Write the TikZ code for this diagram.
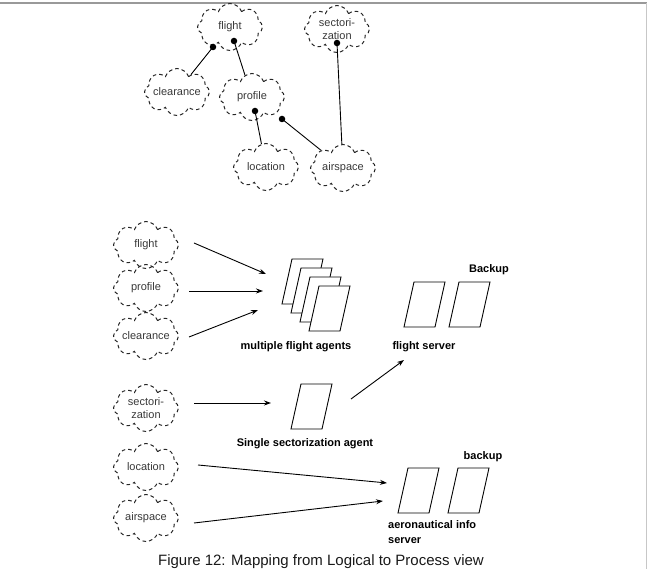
\documentclass[tikz,border=0pt]{standalone}
\usepackage{fontspec}
\setmainfont{Liberation Sans}
\usetikzlibrary{shapes.symbols,arrows.meta}
\newcommand\cloudfont{\fontsize{11}{13}\selectfont}
\newcommand\boldlabfont{\fontsize{11}{15}\selectfont\bfseries}
\newcommand\capfont{\fontsize{15}{17}\selectfont}
\newcommand\cltxt[1]{\makebox[24pt][c]{#1}}
\tikzset{
  cloudbox/.style={cloud, cloud puffs=8, cloud puff arc=140, aspect=1.35,
    draw=black!85, dash pattern=on 3.6pt off 3pt, line width=1pt,
    minimum width=65pt, minimum height=47pt, inner sep=0pt,
    font=\cloudfont, text=black!78, align=center},
  conn/.style={line width=0.9pt, black},
  dotmark/.style={circle, fill=black, inner sep=0pt, minimum size=6.5pt},
  arr/.style={line width=0.9pt, black, -{Stealth[length=7pt,width=5pt]}},
  paraline/.style={line width=0.9pt, black, fill=white},
  boldlab/.style={font=\boldlabfont, text=black, inner sep=0pt},
  pics/para/.style={code={\draw[paraline] (0,0) -- (31,0) -- (21,45) -- (-10,45) -- cycle;}},
  frame/.style={line width=1.4pt}
}
\begin{document}
\begin{tikzpicture}[x=1pt,y=-1pt]
\useasboundingbox (0,0) rectangle (649,569);
% frame
\draw[frame, draw=black!40] (0,3) -- (646.5,3);
\draw[frame, draw=black!22] (646.5,3) -- (646.5,569);

% ---------- top: logical view ----------
\node[cloudbox] (tflight) at (230,27) {\cltxt{flight}};
\node[cloudbox] (tsect) at (337,29) {\cltxt{sectori-}\\\cltxt{zation}};
\node[cloudbox] (tclear) at (177,92) {\cltxt{clearance}};
\node[cloudbox] (tprof) at (252,97) {\cltxt{profile}};
\node[cloudbox] (tloc) at (266,167) {\cltxt{location}};
\node[cloudbox] (tair) at (343,168) {\cltxt{airspace}};

\node[dotmark] (d1) at (213,47) {};
\node[dotmark] (d2) at (234,41) {};
\node[dotmark] (d3) at (337,43) {};
\node[dotmark] (d4) at (255,111) {};
\node[dotmark] (d5) at (282,119) {};

\draw[conn] (tclear) -- (d1.center);
\draw[conn] (tprof) -- (d2.center);
\draw[conn] (tair) -- (d3.center);
\draw[conn] (tloc) -- (d4.center);
\draw[conn] (tair) -- (d5.center);

% ---------- bottom: process view ----------
\node[cloudbox] (bflight) at (146,245) {\cltxt{flight}};
\node[cloudbox] (bprof) at (146,288) {\cltxt{profile}};
\node[cloudbox] (bclear) at (146,336) {\cltxt{clearance}};
\node[cloudbox] (bsect) at (146,408) {\cltxt{sectori-}\\\cltxt{zation}};
\node[cloudbox] (bloc) at (146,467) {\cltxt{location}};
\node[cloudbox] (bair) at (146,518) {\cltxt{airspace}};

% multiple flight agents
\pic at (292,259) {para};
\pic at (301,268) {para};
\pic at (310,277) {para};
\pic at (319,286) {para};
% flight server
\pic at (414,282) {para};
\pic at (459,282) {para};
% single sectorization agent
\pic at (301,384) {para};
% aeronautical info server
\pic at (408,468) {para};
\pic at (458,468) {para};

% arrow end points
\coordinate (a1s) at (194,243); \coordinate (a1e) at (266,274);
\coordinate (a2s) at (189,291); \coordinate (a2e) at (263,291);
\coordinate (a3s) at (189,337); \coordinate (a3e) at (258,310);
\coordinate (a4s) at (194,403); \coordinate (a4e) at (271,403);
\coordinate (a5s) at (351,399); \coordinate (a5e) at (404,360);
\coordinate (a6s) at (198,465); \coordinate (a6e) at (387,483);
\coordinate (a7s) at (194,523); \coordinate (a7e) at (383,501);

\draw[arr] (a1s) -- (a1e);
\draw[arr] (a2s) -- (a2e);
\draw[arr] (a3s) -- (a3e);
\draw[arr] (a4s) -- (a4e);
\draw[arr] (a5s) -- (a5e);
\draw[arr] (a6s) -- (a6e);
\draw[arr] (a7s) -- (a7e);

% labels
\node[boldlab] (lmfa) at (296,347) {multiple flight agents};
\node[boldlab] (lfs) at (424,347) {flight server};
\node[boldlab] (lbk1) at (489,270) {Backup};
\node[boldlab] (lssa) at (305,444) {Single sectorization agent};
\node[boldlab] (lbk2) at (483,457) {backup};
\node[boldlab, align=left, anchor=north west] (laero) at (388,520) {aeronautical info\\server};

\node[font=\capfont, text=black!90, inner sep=0pt, anchor=base] (caption) at (321,565.5) {Figure 12: Mapping from Logical to Process view};
\end{tikzpicture}
\end{document}
